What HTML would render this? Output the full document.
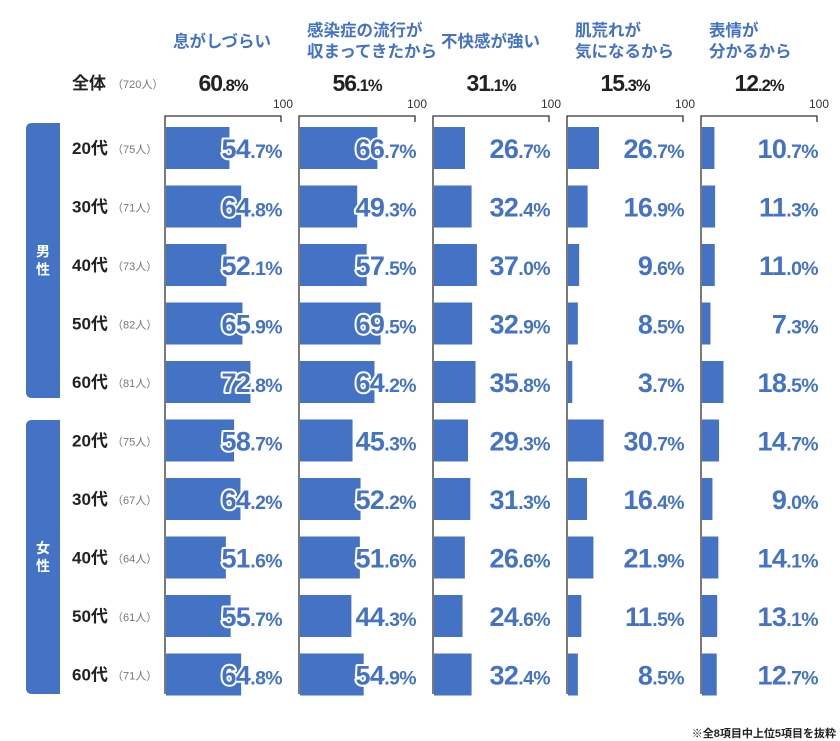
<!DOCTYPE html>
<html><head><meta charset="utf-8"><style>
html,body{margin:0;padding:0;background:#fff;}
svg{display:block;font-family:"Liberation Sans","Noto Sans CJK JP",sans-serif;}
</style></head><body>
<svg id="chart" width="840" height="741" viewBox="0 0 840 741" xmlns="http://www.w3.org/2000/svg"></svg>
<script>
const categories = ["息がしづらい","感染症の流行が\n収まってきたから","不快感が強い","肌荒れが\n気になるから","表情が\n分かるから"];
const overall = [60.8,56.1,31.1,15.3,12.2];
const groups = ["20代","30代","40代","50代","60代","20代","30代","40代","50代","60代"];
const counts = ["75人","71人","73人","82人","81人","75人","67人","64人","61人","71人"];
const s0 = [54.7,64.8,52.1,65.9,72.8,58.7,64.2,51.6,55.7,64.8];
const s1 = [66.7,49.3,57.5,69.5,64.2,45.3,52.2,51.6,44.3,54.9];
const s2 = [26.7,32.4,37.0,32.9,35.8,29.3,31.3,26.6,24.6,32.4];
const s3 = [26.7,16.9,9.6,8.5,3.7,30.7,16.4,21.9,11.5,8.5];
const s4 = [10.7,11.3,11.0,7.3,18.5,14.7,9.0,14.1,13.1,12.7];
const series = [s0,s1,s2,s3,s4];
const ticks = [100];

const NS="http://www.w3.org/2000/svg";
const svg=document.getElementById('chart');
const BLUE="#4472c4";
const colX=i=>165+i*134;
const colW=116;
const xScale=(i,v)=>colX(i)+1+v/100*colW;
const rowY=r=>148+r*58.5;
function el(tag,attrs,parent){const e=document.createElementNS(NS,tag);for(const k in attrs)e.setAttribute(k,attrs[k]);(parent||svg).appendChild(e);return e;}
function pct(v,x,y,size,color,anchor,stroke,ls){
  const s=v.toFixed(1).split('.');
  const t=el('text',{x:x,y:y,'font-size':size,'font-weight':'bold',fill:color,'text-anchor':anchor,'letter-spacing':ls});
  if(stroke){t.setAttribute('stroke','#fff');t.setAttribute('stroke-width','4');t.setAttribute('paint-order','stroke');t.setAttribute('stroke-linejoin','round');}
  const a=el('tspan',{},t);a.textContent=s[0];
  const b=el('tspan',{'font-size':size*0.72},t);b.textContent='.'+s[1]+'%';
  return t;
}
[["男性",123,398],["女性",420,694]].forEach(([lab,y0,y1],k)=>{
  const p=el('path',{d:`M60 ${y0} H32 Q26 ${y0} 26 ${y0+6} V${y1-6} Q26 ${y1} 32 ${y1} H60 Z`,fill:BLUE});
  
  
  const cy=(y0+y1)/2;
  const t=el('text',{x:43,y:cy-4,'font-size':14,'font-weight':'bold',fill:'#fff','text-anchor':'middle'});
  
  
  el('tspan',{x:43,dy:0},t).textContent=lab[0];
  el('tspan',{x:43,dy:18},t).textContent=lab[1];
});
const ot=el('text',{x:72,y:89,'font-size':17,'font-weight':'bold',fill:'#222'});


ot.textContent='全体';
const oc=el('text',{x:112,y:88,'font-size':11,fill:'#777'});oc.textContent='（720人）';
groups.forEach((g,r)=>{
  const t=el('text',{x:72,y:rowY(r)+6,'font-size':17,'font-weight':'bold',fill:'#222'});
  
  
  t.textContent=g;
  const c=el('text',{x:112,y:rowY(r)+5,'font-size':11,fill:'#777'});c.textContent='（'+counts[r]+'）';
});
categories.forEach((cat,i)=>{
  const x0=colX(i);
  const lines=cat.split('\n');
  const hx=i===0?173:x0+8;
  lines.forEach((ln,j)=>{
    const ty=lines.length===1?47:(36+j*21);
    const t=el('text',{x:hx,y:ty,'font-size':16.5,'font-weight':'bold',fill:BLUE});
    
    
    t.textContent=ln;
  });
  const o=pct(overall[i],x0+58,91,23,'#222','middle',false,'-1');
  
  
  const ax=el('path',{d:`M${x0} 694 V116 H${x0+colW} V122`,fill:'none',stroke:'#333','stroke-width':1.3});
  
  
  ticks.forEach(tk=>{
    const tl=el('text',{x:xScale(i,tk)+1,y:108,'font-size':12,fill:'#333','text-anchor':'middle'});
    
    
    tl.textContent=tk;
  });
  series[i].forEach((v,r)=>{
    const y=rowY(r);
    const b=el('rect',{x:x0+1,y:y-21,width:xScale(i,v)-x0-1,height:42,fill:BLUE});
    
    
    const t=pct(v,x0+colW+1,y+10,27,BLUE,'end',true,'-0.6');
    
    
  });
});
const fn=el('text',{x:836,y:737,'font-size':11,'font-weight':'bold',fill:'#222','text-anchor':'end'});


fn.textContent='※全8項目中上位5項目を抜粋';
</script>
</body></html>
